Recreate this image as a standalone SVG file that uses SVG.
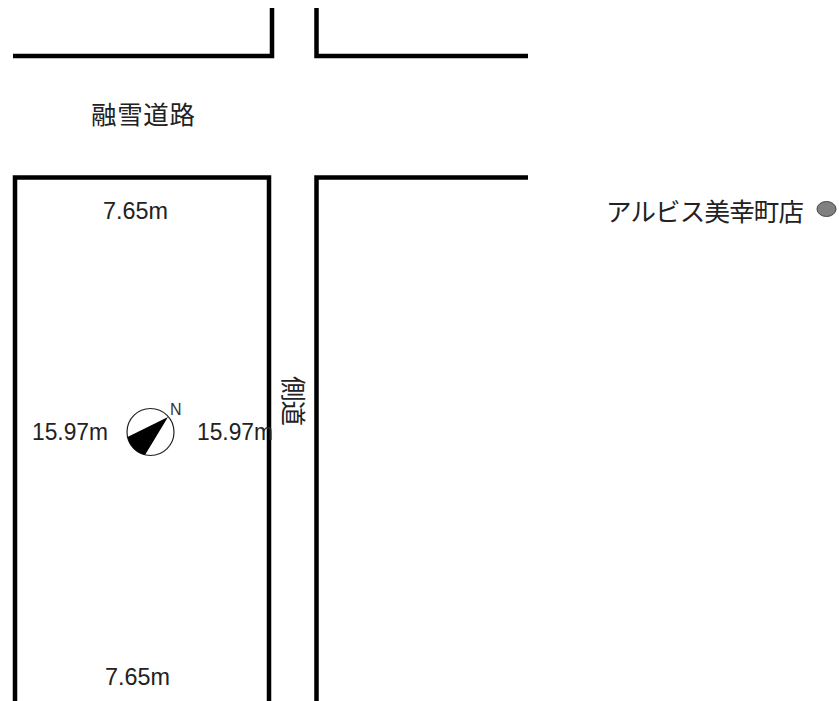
<svg xmlns="http://www.w3.org/2000/svg" width="839" height="701" viewBox="0 0 839 701">
<style>
.w{fill:none;stroke:#000;stroke-width:4.5}
.t{font-family:"Liberation Sans","Noto Sans CJK JP",sans-serif;font-size:23px;fill:#222}
.j{font-family:"Noto Sans CJK JP",sans-serif;font-size:25.5px;fill:#222}
</style>
<rect width="839" height="701" fill="#fff"/>
<g id="walls">
<path class="w" d="M13 56H272V8"/>
<path class="w" d="M316.500 8V56H528"/>
<path class="w" d="M15 701V177.500H269V701"/>
<path class="w" d="M316.500 701V177.500H528"/>
</g>
<g id="labels">
<text class="j" x="91" y="124" textLength="104">融雪道路</text>
<text class="t" x="103" y="219" textLength="65" lengthAdjust="spacingAndGlyphs">7.65m</text>
<text class="t" x="105" y="685" textLength="65" lengthAdjust="spacingAndGlyphs">7.65m</text>
<text class="t" x="32" y="440" textLength="76" lengthAdjust="spacingAndGlyphs">15.97m</text>
<text class="t" x="197" y="440" textLength="76" lengthAdjust="spacingAndGlyphs">15.97m</text>
<text class="j" transform="translate(284 376) rotate(90)" textLength="50">側道</text>
<text class="j" x="606" y="221" textLength="198">アルビス美幸町店</text>
</g>
<g id="compass">
<circle cx="150.500" cy="432" r="23.500" fill="#fff" stroke="#222" stroke-width="1.200"/>
<path d="M168 417L127.500 437A23.500 23.500 0 0 0 145 455Z" fill="#000"/>
<text x="170" y="415" font-family="Liberation Sans,sans-serif" font-size="16" fill="#333">N</text>
</g>
<g id="marker">
<ellipse cx="826.500" cy="209" rx="9.500" ry="7.500" fill="#808080" stroke="#444" stroke-width="1"/>
</g>
</svg>
